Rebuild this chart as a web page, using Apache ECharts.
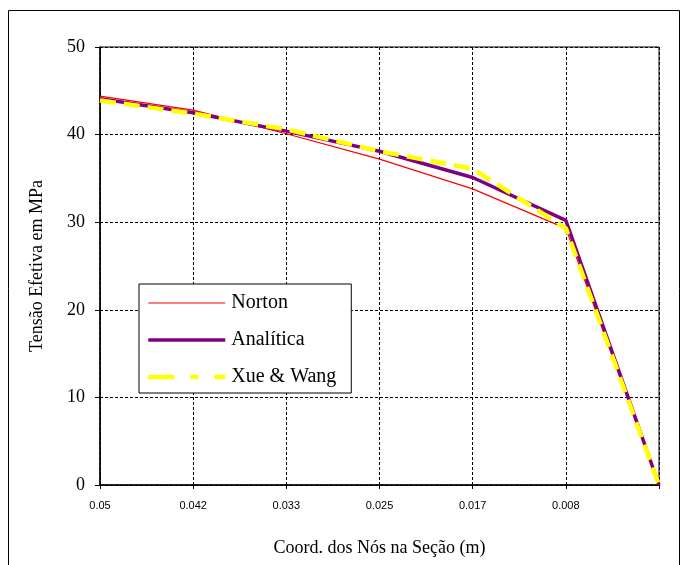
<!DOCTYPE html>
<html>
<head>
<meta charset="utf-8">
<script src="https://cdn.jsdelivr.net/npm/echarts@6/dist/echarts.min.js"></script>
<style>
  html, body { margin: 0; padding: 0; background: #fff; }
  #main { width: 687px; height: 565px; }
</style>
</head>
<body>
<div id="main"></div>
<script>
var categories = ['0.05', '0.042', '0.033', '0.025', '0.017', '0.008', ''];
var norton = [44.4, 42.8, 40.1, 37.2, 33.8, 29.3, 0];
var analitica = [44.1, 42.5, 40.4, 38.1, 35.1, 30.2, 0];
var xueWang = [43.9, 42.4, 40.6, 38.1, 36.1, 29.3, 0];

var chartDom = document.getElementById('main');
var myChart = echarts.init(chartDom);
var option;

var serif = 'Liberation Serif';

option = {
  animation: false,
  backgroundColor: '#fff',
  graphic: [
    {
      type: 'rect',
      shape: { x: 8.5, y: 10.5, width: 671, height: 600 },
      style: { fill: 'none', stroke: '#000', lineWidth: 1 },
      silent: true,
      z: -10
    }
  ],
  grid: {
    left: 100,
    right: 28,
    top: 47,
    bottom: 80,
    show: true,
    borderColor: '#000',
    borderWidth: 1
  },
  legend: {
    orient: 'vertical',
    left: 139,
    top: 284,
    padding: [9, 15, 6, 7],
    itemGap: 17,
    itemWidth: 77,
    itemHeight: 14,
    borderColor: '#000',
    borderWidth: 1,
    backgroundColor: '#fff',
    itemStyle: { opacity: 0 },
    textStyle: { fontFamily: serif, fontSize: 20, color: '#000', padding: [0, 0, 0, 1] },
    data: [
      { name: 'Norton', lineStyle: { width: 1.2 } },
      { name: 'Analítica', lineStyle: { width: 3.5 } },
      { name: 'Xue & Wang', lineStyle: { width: 4.5, type: [26, 16, 8, 16] } }
    ]
  },
  xAxis: {
    type: 'category',
    data: categories,
    boundaryGap: false,
    name: 'Coord. dos Nós na Seção (m)',
    nameLocation: 'middle',
    nameGap: 54,
    nameTextStyle: { fontFamily: serif, fontSize: 18, color: '#000' },
    axisLine: { lineStyle: { color: '#000', width: 1.5 } },
    axisTick: { show: true, alignWithLabel: true, length: 4, lineStyle: { color: '#000' } },
    axisLabel: { fontFamily: 'Liberation Sans', fontSize: 11, color: '#000', margin: 15 },
    splitLine: { show: true, lineStyle: { color: '#000', type: [3, 2], width: 1 } }
  },
  yAxis: {
    type: 'value',
    min: 0,
    max: 50,
    interval: 10,
    name: 'Tensão Efetiva em MPa',
    nameLocation: 'middle',
    nameGap: 54,
    nameTextStyle: { fontFamily: serif, fontSize: 18, color: '#000' },
    axisLine: { show: true, lineStyle: { color: '#000', width: 1.5 } },
    axisTick: { show: true, length: 5, lineStyle: { color: '#000' } },
    axisLabel: { fontFamily: serif, fontSize: 18, color: '#000', margin: 15 },
    splitLine: { show: true, lineStyle: { color: '#000', type: [3, 2], width: 1 } }
  },
  series: [
    {
      name: 'Norton',
      type: 'line',
      data: norton,
      symbol: 'none',
      lineStyle: { color: '#ff0000', width: 1.2 },
      itemStyle: { color: '#ff0000' }
    },
    {
      name: 'Analítica',
      type: 'line',
      data: analitica,
      symbol: 'none',
      lineStyle: { color: '#800080', width: 3.5 },
      itemStyle: { color: '#800080' }
    },
    {
      name: 'Xue & Wang',
      type: 'line',
      data: xueWang,
      symbol: 'none',
      lineStyle: { color: '#ffff00', width: 4.5, type: [16, 8] },
      itemStyle: { color: '#ffff00' }
    }
  ]
};

option && myChart.setOption(option);
</script>
</body>
</html>
